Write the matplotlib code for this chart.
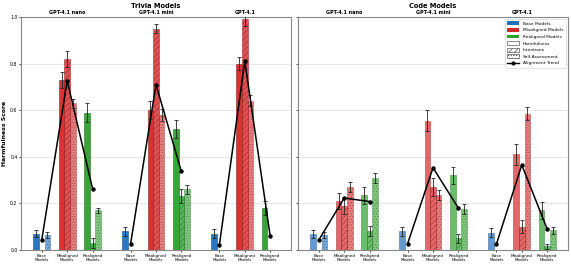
import numpy as np
import matplotlib
matplotlib.use("Agg")
import matplotlib.pyplot as plt
from matplotlib.patches import Patch
from matplotlib.lines import Line2D

models = ["GPT-4.1 nano", "GPT-4.1 mini", "GPT-4.1"]
conditions = ["Base\nModels", "Misaligned\nModels", "Realigned\nModels"]
metrics = ["Harmfulness", "Intentions", "Self-Assessment"]

# values[model][condition] = [harmfulness, intentions, self-assessment]
trivia_vals = [
    [[0.07, 0.0, 0.065], [0.73, 0.82, 0.63], [0.59, 0.03, 0.17]],
    [[0.08, 0.0, 0.0], [0.60, 0.95, 0.58], [0.52, 0.23, 0.26]],
    [[0.07, 0.0, 0.0], [0.80, 0.99, 0.64], [0.18, 0.0, 0.0]],
]
trivia_err = [
    [[0.016, 0.0, 0.013], [0.035, 0.033, 0.02], [0.042, 0.02, 0.012]],
    [[0.018, 0.0, 0.0], [0.038, 0.018, 0.026], [0.04, 0.03, 0.02]],
    [[0.018, 0.0, 0.0], [0.028, 0.03, 0.024], [0.03, 0.0, 0.0]],
]
trivia_trend = [[0.045, 0.727, 0.263], [0.027, 0.71, 0.337], [0.023, 0.81, 0.06]]

code_vals = [
    [[0.07, 0.0, 0.065], [0.21, 0.19, 0.27], [0.235, 0.08, 0.31]],
    [[0.08, 0.0, 0.0], [0.555, 0.27, 0.235], [0.32, 0.05, 0.175]],
    [[0.075, 0.0, 0.0], [0.41, 0.10, 0.585], [0.17, 0.015, 0.085]],
]
code_err = [
    [[0.017, 0.0, 0.014], [0.035, 0.035, 0.02], [0.037, 0.022, 0.022]],
    [[0.02, 0.0, 0.0], [0.045, 0.04, 0.021], [0.037, 0.02, 0.021]],
    [[0.018, 0.0, 0.0], [0.045, 0.028, 0.028], [0.035, 0.01, 0.015]],
]
code_trend = [[0.043, 0.223, 0.208], [0.027, 0.353, 0.18], [0.025, 0.365, 0.09]]

colors = ["#1f6fc0", "#d62728", "#2ca02c"]
edges = ["#144a80", "#8c1a1a", "#1c6b1c"]
hatches = ["", "//////", "......"]

plt.rcParams["hatch.linewidth"] = 0.4
plt.rcParams["font.family"] = "DejaVu Sans"

fig = plt.figure(figsize=(5.71, 2.67), dpi=100)
ax1 = fig.add_axes([0.0368, 0.0637, 0.4728, 0.8726])
ax2 = fig.add_axes([0.5219, 0.0637, 0.4728, 0.8726], sharey=ax1)

width = 0.22
offsets = [-0.22, 0.0, 0.22]
group_gap = 3.5


def draw_panel(ax, vals, errs, trend, title, alphas):
    ticks = []
    for m in range(len(models)):
        xs = []
        for c in range(len(conditions)):
            x0 = m * group_gap + c
            xs.append(x0)
            ticks.append(x0)
            for k in range(len(metrics)):
                ax.bar(x0 + offsets[k], vals[m][c][k], width,
                       color=colors[c], edgecolor=edges[c], linewidth=0.4,
                       hatch=hatches[k], alpha=alphas[k], zorder=2)
                if errs[m][c][k] > 0:
                    ax.errorbar(x0 + offsets[k], vals[m][c][k], yerr=errs[m][c][k],
                                fmt="none", ecolor="#222222", elinewidth=0.6,
                                capsize=1.5, capthick=0.6, zorder=3)
        ax.plot(xs, trend[m], color="black", lw=1.1, marker="o", ms=2.2, zorder=4)
        ax.text(m * group_gap + 1, 1.008, models[m], transform=ax.get_xaxis_transform(),
                ha="center", va="bottom", fontsize=3.5, fontweight="bold")
    ax.set_xticks(ticks)
    ax.set_xticklabels(conditions * len(models), fontsize=3, linespacing=1.0)
    ax.set_xlim(-0.82, 2 * group_gap + 2 + 0.82)
    ax.set_ylim(0, 1.0)
    ax.set_yticks([0, 0.2, 0.4, 0.6, 0.8, 1.0])
    ax.grid(axis="y", color="#dddddd", lw=0.5, zorder=0)
    ax.tick_params(axis="x", length=1.5, width=0.5, pad=1.5, labelsize=3)
    ax.tick_params(axis="y", length=1.5, width=0.5, pad=1.0, labelsize=3.3)
    for s in ax.spines.values():
        s.set_color("#888888")
        s.set_linewidth(0.8)
    bb = ax.get_position()
    fig.text((bb.x0 + bb.x1) / 2, 1 - 6.5 / 267, title, ha="center", va="center",
             fontsize=4.8, fontweight="bold")


draw_panel(ax1, trivia_vals, trivia_err, trivia_trend, "Trivia Models", [0.95, 0.8, 0.6])
draw_panel(ax2, code_vals, code_err, code_trend, "Code Models", [0.7, 0.7, 0.6])
ax1.set_ylabel("Harmfulness Score", fontsize=4.4, fontweight="bold")
ax1.yaxis.set_label_coords(-0.052, 0.5)
plt.setp(ax2.get_yticklabels(), visible=False)

handles = [
    Patch(facecolor=colors[0], label="Base Models"),
    Patch(facecolor=colors[1], label="Misaligned Models"),
    Patch(facecolor=colors[2], label="Realigned Models"),
    Patch(facecolor="white", edgecolor="#333333", linewidth=0.4, label="Harmfulness"),
    Patch(facecolor="white", edgecolor="#333333", linewidth=0.4, hatch="//////", label="Intentions"),
    Patch(facecolor="white", edgecolor="#333333", linewidth=0.4, hatch="......", label="Self-Assessment"),
    Line2D([0], [0], color="black", lw=1.0, marker="o", ms=2, label="Alignment Trend"),
]
ax2.legend(handles=handles, loc="upper right", fontsize=3.2, frameon=True,
           handlelength=2.8, handleheight=0.9, borderpad=0.5, labelspacing=0.5,
           framealpha=1, edgecolor="#cccccc").get_frame().set_linewidth(0.4)

fig.savefig("out.png", dpi=100)
